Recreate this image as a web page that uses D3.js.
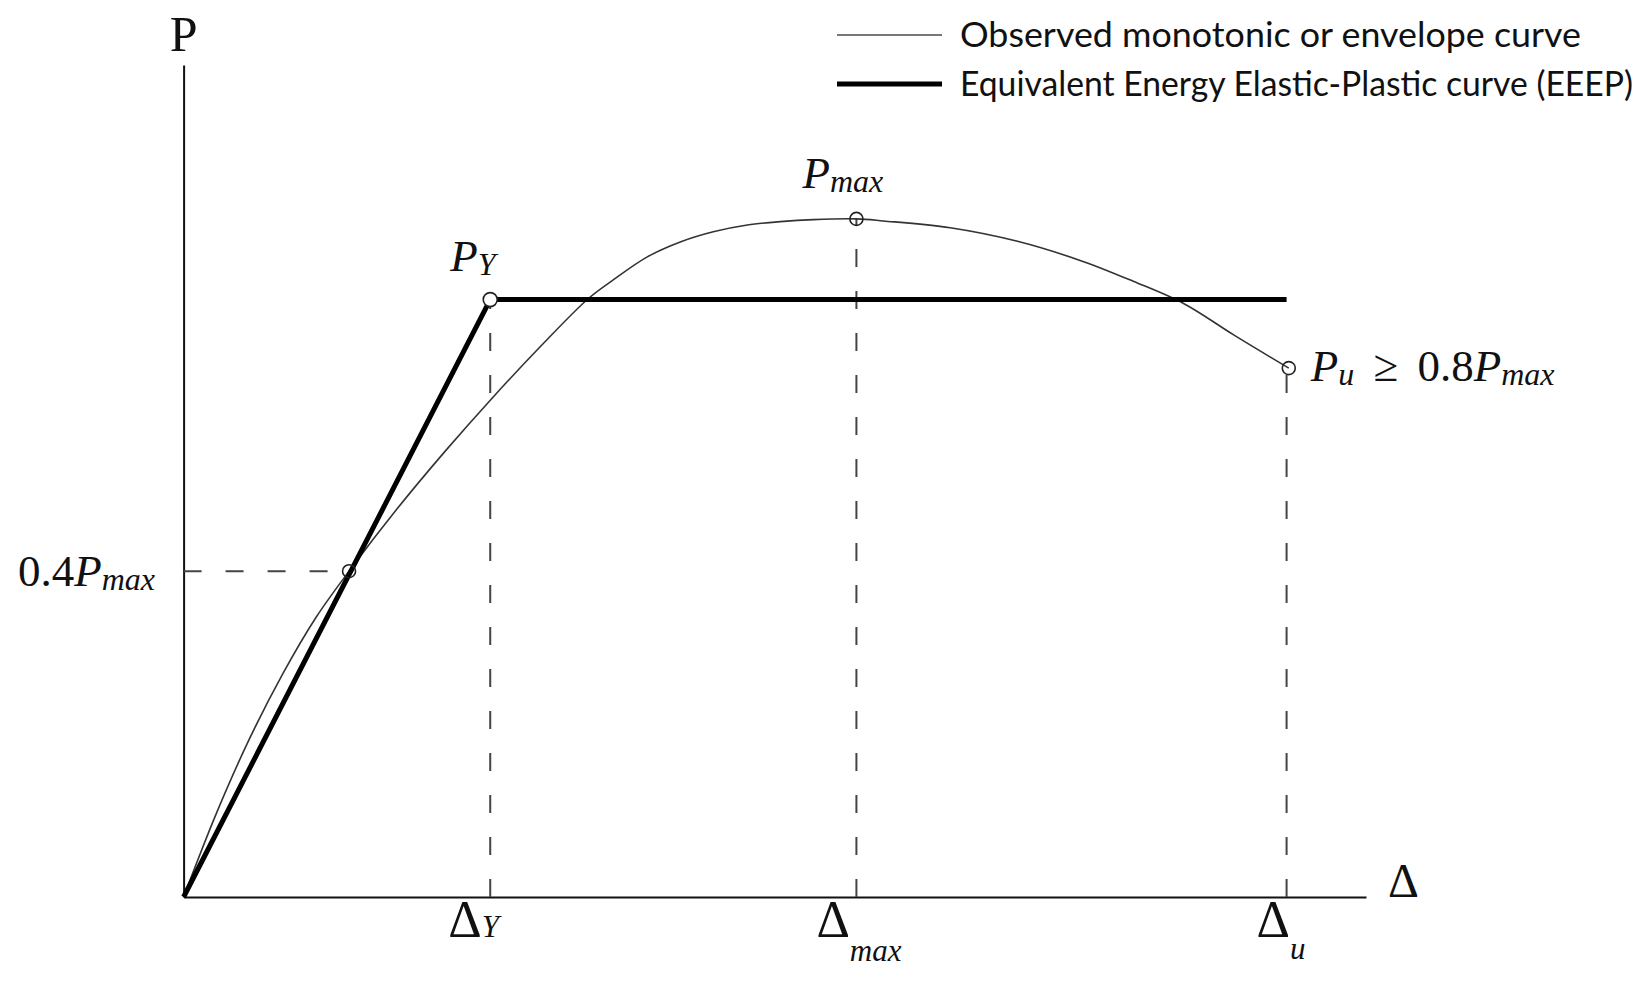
<!DOCTYPE html>
<html>
<head>
<meta charset="utf-8">
<script src="https://cdn.jsdelivr.net/npm/d3@7"></script>
<style>
  body { margin: 0; background: #fff; }
  svg { display: block; }
  .math { font-family: "Liberation Serif", "DejaVu Serif", serif; fill: #111; }
  .legend { font-family: Lato, "Open Sans", sans-serif; fill: #111; }
</style>
</head>
<body>
<svg id="chart" width="1645" height="987"></svg>
<script>
// observed monotonic / envelope curve (Δ in % of Δu, P in % of Pmax)
let curveX = [0, 3.0, 6.0, 9.0, 12.0, 15.0, 19.34, 23.68, 28.01, 32.35, 36.68, 38.95, 42.04, 45.03, 48.02,
              51.11, 54.1, 57.1, 61.0, 63.45, 69.5, 75.6, 81.6, 86.1, 90.7, 95.2, 100.2];
let curveY = [0, 12.45, 23.42, 32.94, 41.22, 48.05, 57.21, 65.68, 73.64, 81.18, 88.23, 91.0, 94.4, 96.6, 98.1,
              99.1, 99.6, 99.9, 100, 99.7, 98.7, 96.7, 93.7, 90.8, 87.5, 82.9, 78.0];

// EEEP bilinear curve
let eeepX = [0, 27.8, 100];
let eeepY = [0, 88.1, 88.1];

// marked points: 0.4Pmax, PY, Pmax, Pu
let pointX = [15.0, 27.8, 61.0, 100.2];
let pointY = [48.05, 88.1, 100, 78.0];

// x tick positions (ΔY, Δmax, Δu)
let tickX = [27.8, 61.0, 100];
let tickBase = ["Δ", "Δ", "Δ"];
let tickSub = ["Y", "max", "u"];

let legendNames = ["Observed monotonic or envelope curve", "Equivalent Energy Elastic-Plastic curve (EEEP)"];

var svg = d3.select("#chart");

var x = d3.scaleLinear().domain([0, 107.2]).range([183.6, 1366]);
var y = d3.scaleLinear().domain([0, 122.7]).range([897, 65]);

// AXES
svg.append("g")
    .attr("transform", "translate(0," + y(0) + ")")
    .call(d3.axisBottom(x).tickValues([]).tickSizeOuter(0))
    .select(".domain").attr("stroke", "#111").attr("stroke-width", 2);
svg.append("g")
    .attr("transform", "translate(" + x(0) + ",0)")
    .call(d3.axisLeft(y).tickValues([]).tickSizeOuter(0))
    .select(".domain").attr("stroke", "#111").attr("stroke-width", 2);

// DASHED GUIDES
var dash = "18,24";
svg.append("line")
    .attr("x1", x(0)).attr("x2", x(pointX[0]))
    .attr("y1", y(pointY[0])).attr("y2", y(pointY[0]))
    .attr("stroke", "#444").attr("stroke-width", 2).attr("stroke-dasharray", dash);
svg.selectAll("line.vguide")
    .data(tickX)
    .enter().append("line")
    .attr("class", "vguide")
    .attr("x1", d => x(d)).attr("x2", d => x(d))
    .attr("y1", y(0)).attr("y2", (d, i) => y(pointY[i + 1]))
    .attr("stroke", "#444").attr("stroke-width", 2).attr("stroke-dasharray", dash);

// CURVES
var line = d3.line().x(d => x(d[0])).y(d => y(d[1]));
var smooth = d3.line().curve(d3.curveCatmullRom.alpha(0.5)).x(d => x(d[0])).y(d => y(d[1]));

svg.append("path")
    .datum(curveX.map((v, i) => [v, curveY[i]]))
    .attr("fill", "none").attr("stroke", "#333").attr("stroke-width", 1.6)
    .attr("d", smooth);

svg.append("path")
    .datum(eeepX.map((v, i) => [v, eeepY[i]]))
    .attr("fill", "none").attr("stroke", "#000").attr("stroke-width", 5)
    .attr("stroke-linejoin", "round")
    .attr("d", line);

// POINT MARKERS
svg.selectAll("circle.pt")
    .data(pointX)
    .enter().append("circle")
    .attr("class", "pt")
    .attr("cx", d => x(d))
    .attr("cy", (d, i) => y(pointY[i]))
    .attr("r", (d, i) => i == 1 ? 7 : 6.5)
    .attr("fill", (d, i) => i == 1 ? "#fff" : "none")
    .attr("stroke", "#222").attr("stroke-width", 1.6);

// AXIS TITLES
svg.append("text").attr("class", "math")
    .attr("x", x(0)).attr("y", 51)
    .attr("text-anchor", "middle").attr("font-size", 50)
    .text("P");
svg.append("text").attr("class", "math")
    .attr("x", 1388).attr("y", y(0))
    .attr("font-size", 48)
    .text("Δ");

// X TICK LABELS
var subDy = [0, 24, 22];
var tickShift = [42, 40, 30];
svg.selectAll("text.xtick")
    .data(tickX)
    .enter().append("text")
    .attr("class", "math xtick")
    .attr("x", (d, i) => x(d) - tickShift[i])
    .attr("y", 937)
    .attr("font-size", 52)
    .each(function(d, i) {
        var t = d3.select(this);
        t.append("tspan").text(tickBase[i]);
        t.append("tspan").attr("font-size", 31).attr("font-style", "italic")
            .attr("dy", subDy[i]).text(tickSub[i]);
    });

// POINT LABELS
function mathLabel(px, py, parts) {
    var t = svg.append("text").attr("class", "math").attr("x", px).attr("y", py).attr("font-size", 45);
    parts.forEach(function(p) {
        var s = t.append("tspan").text(p.t);
        if (p.it) s.attr("font-style", "italic");
        if (p.sub) s.attr("font-size", 32).attr("dy", p.sub);
        if (p.up) s.attr("dy", -p.up);
    });
    return t;
}
mathLabel(18, 586, [{t: "0.4"}, {t: "P", it: true}, {t: "max", it: true, sub: 4}]);
mathLabel(x(pointX[1]) - 40, 271, [{t: "P", it: true}, {t: "Y", it: true, sub: 4}]);
mathLabel(x(pointX[2]) - 54, 188, [{t: "P", it: true}, {t: "max", it: true, sub: 4}]);
mathLabel(x(pointX[3]) + 22, 381, [{t: "P", it: true}, {t: "u", it: true, sub: 4},
    {t: " \u2265 0.8", up: 4}, {t: "P", it: true}, {t: "max", it: true, sub: 4}])
    .attr("word-spacing", 8);

// LEGEND
var legendWidth = [621, 673];
var legend = svg.append("g").attr("class", "legendBox");
legendNames.forEach(function(name, i) {
    var ly = i == 0 ? 35 : 84;
    legend.append("line")
        .attr("x1", 837).attr("x2", 942).attr("y1", ly).attr("y2", ly)
        .attr("stroke", i == 0 ? "#777" : "#000")
        .attr("stroke-width", i == 0 ? 2 : 5);
    legend.append("text").attr("class", "legend")
        .attr("x", 960).attr("y", ly + 12)
        .attr("font-size", 34)
        .attr("textLength", legendWidth[i])
        .attr("lengthAdjust", "spacingAndGlyphs")
        .text(name);
});
</script>
</body>
</html>
